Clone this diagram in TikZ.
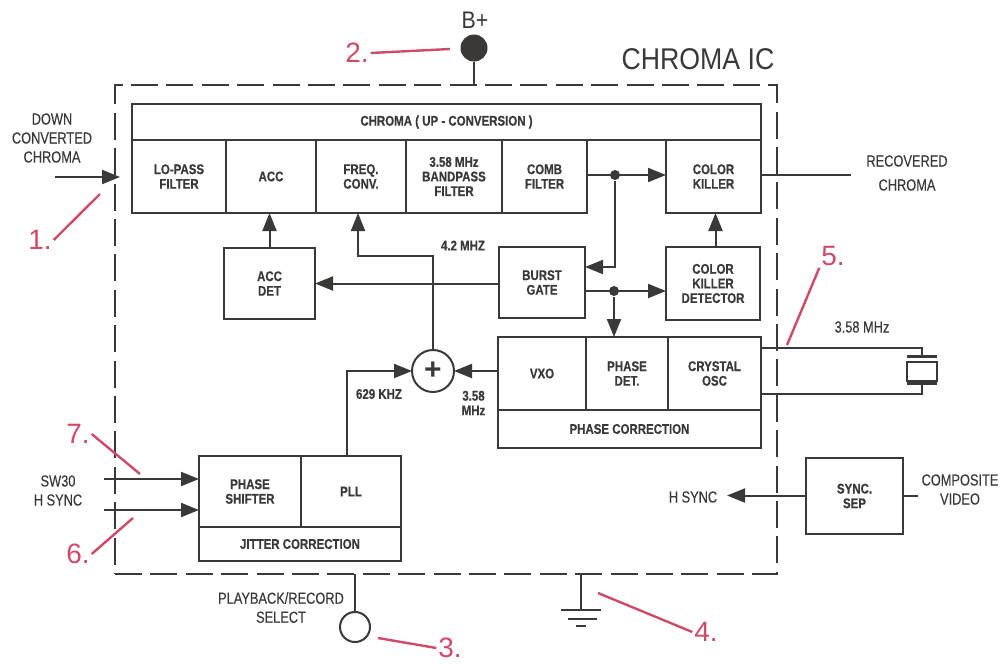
\documentclass[tikz,border=0pt]{standalone}
\usepackage{fontspec}
\usetikzlibrary{positioning, arrows.meta, calc}
\setmainfont{Liberation Sans}
\newfontfamily\blockfont[FakeStretch=0.82, FakeBold=0.5]{Liberation Sans}
\newfontfamily\labelfont[FakeStretch=0.8, FakeBold=0.25]{Liberation Sans}
\newfontfamily\titlefont[FakeStretch=0.89]{Liberation Sans}
\definecolor{inkdark}{HTML}{3B3937}
\definecolor{calloutred}{HTML}{CF4A68}

\begin{document}
\begin{tikzpicture}[
    x=1pt, y=-1pt,
    color=inkdark, line width=2pt,
    >={Triangle[length=18pt, width=14pt]},
    block/.style={draw, rectangle, inner sep=0pt, outer sep=0pt, align=center, font=\blockfont\bfseries\fontsize{14}{14.6}\selectfont},
    toprow/.style={block, minimum height=73pt},
    signal/.style={inner sep=0pt, align=center, font=\labelfont\fontsize{16}{19}\selectfont},
    freq/.style={inner sep=0pt, align=center, font=\blockfont\bfseries\fontsize{14}{14.6}\selectfont},
    callout/.style={inner sep=1pt, text=calloutred, font=\fontsize{28}{28}\selectfont},
    pointer/.style={draw=calloutred, line width=2.4pt},
    tap/.style={circle, fill=inkdark, inner sep=0pt, minimum size=10pt}
]
    \useasboundingbox (0,0) rectangle (1001,665);

    % ================= CHIP OUTLINE =================
    \node[draw, dash pattern=on 27pt off 8.4pt, inner sep=0pt, outer sep=0pt, minimum width=662pt, minimum height=489pt] (chip) at (446,329.5) {};
    \node[inner sep=0pt, font=\titlefont\fontsize{30}{30}\selectfont] (title) at (698,59) {CHROMA IC};

    % ================= CHROMA UP-CONVERSION =================
    \node[block, minimum width=629pt, minimum height=36pt] (upconv) at (446.5,122) {CHROMA ( UP - CONVERSION )};
    \node[toprow, minimum width=94pt] (lopass) at (179,176.5) {LO-PASS\\FILTER};
    \node[toprow, minimum width=90pt] (acc) at (271,176.5) {ACC};
    \node[toprow, minimum width=90pt] (fconv) at (361,176.5) {FREQ.\\CONV.};
    \node[toprow, minimum width=96pt] (bandpass) at (454,176.5) {3.58 MHz\\BANDPASS\\FILTER};
    \node[toprow, minimum width=85pt] (comb) at (544.5,176.5) {COMB\\FILTER};
    \node[toprow, minimum width=95pt] (killer) at (713.5,176.5) {COLOR\\KILLER};

    % ================= MIDDLE ROW =================
    \node[block, minimum width=91pt, minimum height=71pt] (accdet) at (269.5,283.5) {ACC\\DET};
    \node[block, minimum width=86pt, minimum height=71pt] (burst) at (542,282.5) {BURST\\GATE};
    \node[block, minimum width=94pt, minimum height=73pt] (killerdet) at (713,283.5) {COLOR\\KILLER\\DETECTOR};

    % ================= PHASE CORRECTION =================
    \node[block, minimum width=88pt, minimum height=73pt] (vxo) at (542,373.5) {VXO};
    \node[block, minimum width=82pt, minimum height=73pt] (phasedet) at (627,373.5) {PHASE\\DET.};
    \node[block, minimum width=93pt, minimum height=73pt] (crystal) at (714.5,373.5) {CRYSTAL\\OSC};
    \node[block, minimum width=263pt, minimum height=38pt] (phasecorr) at (629.5,429) {PHASE CORRECTION};
    \node[draw, circle, inner sep=0pt, outer sep=0pt, minimum size=42pt, font=\bfseries\fontsize{30}{30}\selectfont] (sum) at (433,371) {+};

    % ================= JITTER CORRECTION =================
    \node[block, minimum width=102pt, minimum height=71pt] (shifter) at (250,491.5) {PHASE\\SHIFTER};
    \node[block, minimum width=100pt, minimum height=71pt] (pll) at (351,491.5) {PLL};
    \node[block, minimum width=202pt, minimum height=34pt] (jitter) at (300,544) {JITTER CORRECTION};

    % ================= OUTSIDE THE CHIP =================
    \node[block, minimum width=97pt, minimum height=76pt] (syncsep) at (854.5,496) {SYNC.\\SEP};
    \node[draw, rectangle, inner sep=0pt, outer sep=0pt, minimum width=30pt, minimum height=19pt] (quartz) at (922,371) {};
    \node[circle, fill=inkdark, inner sep=0pt, outer sep=0pt, minimum size=27pt] (bplus) at (474,48) {};
    \node[draw, circle, inner sep=0pt, outer sep=0pt, minimum size=30pt] (select) at (355,627) {};
    \coordinate (gnd) at (581,610);
    \coordinate (chromain) at (55,177);
    \coordinate (chromaend) at (120,177);
    \coordinate (chromaout) at (851,175);
    \coordinate (swin) at (104,479);
    \coordinate (hin) at (104,510);
    \coordinate (hout) at (727,495.5);
    \coordinate (videoin) at (918,495.5);
    \coordinate (fkink) at (358,256);
    \coordinate (pllkink) at (347,371);
    \coordinate (oscup) at (761,348);
    \coordinate (oscdown) at (761,394);
    \coordinate (killerlink) at (715.5,230);

    % ================= SIGNAL LABELS =================
    \node[inner sep=0pt, font=\titlefont\fontsize{24}{24}\selectfont] (l_bplus) at (475,20) {B+};
    \node[signal] (l_down) at (52,138) {DOWN\\CONVERTED\\CHROMA};
    \node[signal, font=\labelfont\fontsize{16}{24}\selectfont] (l_rec) at (907,173) {RECOVERED\\CHROMA};
    \node[signal] (l_sw) at (58,490.5) {SW30\\H SYNC};
    \node[signal] (l_select) at (281,607.5) {PLAYBACK/RECORD\\SELECT};
    \node[signal] (l_hsync) at (693,497) {H SYNC};
    \node[signal] (l_video) at (960,489.5) {COMPOSITE\\VIDEO};
    \node[signal] (l_xtal) at (862,327) {3.58 MHz};
    \node[freq] (l_42) at (463,245.5) {4.2 MHZ};
    \node[freq] (l_629) at (379,394) {629 KHZ};
    \node[freq] (l_358) at (473.5,403) {3.58\\MHz};

    % ================= CONNECTIONS =================
    \draw[->] (chromain) -- (chromaend);
    \draw[->] (accdet.north) -- (accdet.north |- acc.south);
    \draw[->] (burst.west |- accdet) -- (accdet.east);
    \draw[->] (sum.north) |- (fkink) -- (fkink |- fconv.south);
    \draw (killer.east |- chromaout) -- (chromaout);

    % Comb filter taps
    \draw[->] (comb.east |- 0,175) -- (killer.west |- 0,175);
    \node[tap] (tapa) at (615,175) {};
    \draw[->] (tapa) |- (burst.east |- 0,267);
    \draw[->] (burst.east |- 0,291) -- (killerdet.west |- 0,291);
    \node[tap] (tapb) at (614,291) {};
    \draw[->] (tapb) -- (tapb |- phasedet.north);
    \draw[->] (killerlink |- killerdet.north) -- (killerlink |- killer.south);

    % Sum inputs
    \draw[->] (vxo.west |- sum) -- (sum.east);
    \draw[->] (pllkink |- pll.north) -- (pllkink) -- (sum.west);

    % Jitter inputs
    \draw[->] (swin) -- (swin -| shifter.west);
    \draw[->] (hin) -- (hin -| shifter.west);

    % Crystal
    \draw (crystal.east |- oscup) -- (oscup) -| ($(quartz.north)+(0,-5)$);
    \draw (crystal.east |- oscdown) -- (oscdown) -| ($(quartz.south)+(0,3)$);
    \draw[line width=2.4pt] ($(quartz.north west)+(0,-5)$) -- ($(quartz.north east)+(0,-5)$);
    \draw[line width=3pt] ($(quartz.south west)+(0,3)$) -- ($(quartz.south east)+(0,3)$);

    % Sync separator
    \draw[->] (syncsep.west |- hout) -- (hout);
    \draw (syncsep.east |- videoin) -- (videoin);

    % Chip pins
    \draw (bplus) -- (bplus |- chip.north);
    \draw (select.north) -- (select.north |- chip.south);
    \draw (gnd |- chip.south) -- (gnd);
    \draw ($(gnd)+(-20,0)$) -- ($(gnd)+(20,0)$);
    \draw ($(gnd)+(-13,8.5)$) -- ($(gnd)+(16,8.5)$);
    \draw ($(gnd)+(-5,16)$) -- ($(gnd)+(5,16)$);

    % ================= NUMBERED CALLOUTS =================
    \node[callout] (c_one) at (40,240) {1.};
    \node[callout] (c_two) at (357,53) {2.};
    \node[callout] (c_three) at (450,648) {3.};
    \node[callout] (c_four) at (706,632) {4.};
    \node[callout] (c_five) at (833,256) {5.};
    \node[callout] (c_six) at (78,554) {6.};
    \node[callout] (c_seven) at (78,434) {7.};

    \coordinate (p_one) at (100,194);
    \coordinate (p_two) at (450,49);
    \coordinate (p_three) at (378,638);
    \coordinate (p_four) at (598,593);
    \coordinate (p_five) at (787,345);
    \coordinate (p_six) at (133,518);
    \coordinate (p_seven) at (140,474);

    \draw[pointer] (c_one.east) -- (p_one);
    \draw[pointer] (c_two.east) -- (p_two);
    \draw[pointer] (c_three.west) -- (p_three);
    \draw[pointer] (c_four.west) -- (p_four);
    \draw[pointer] (c_five.south west) -- (p_five);
    \draw[pointer] (c_six.east) -- (p_six);
    \draw[pointer] (c_seven.east) -- (p_seven);
\end{tikzpicture}
\end{document}
